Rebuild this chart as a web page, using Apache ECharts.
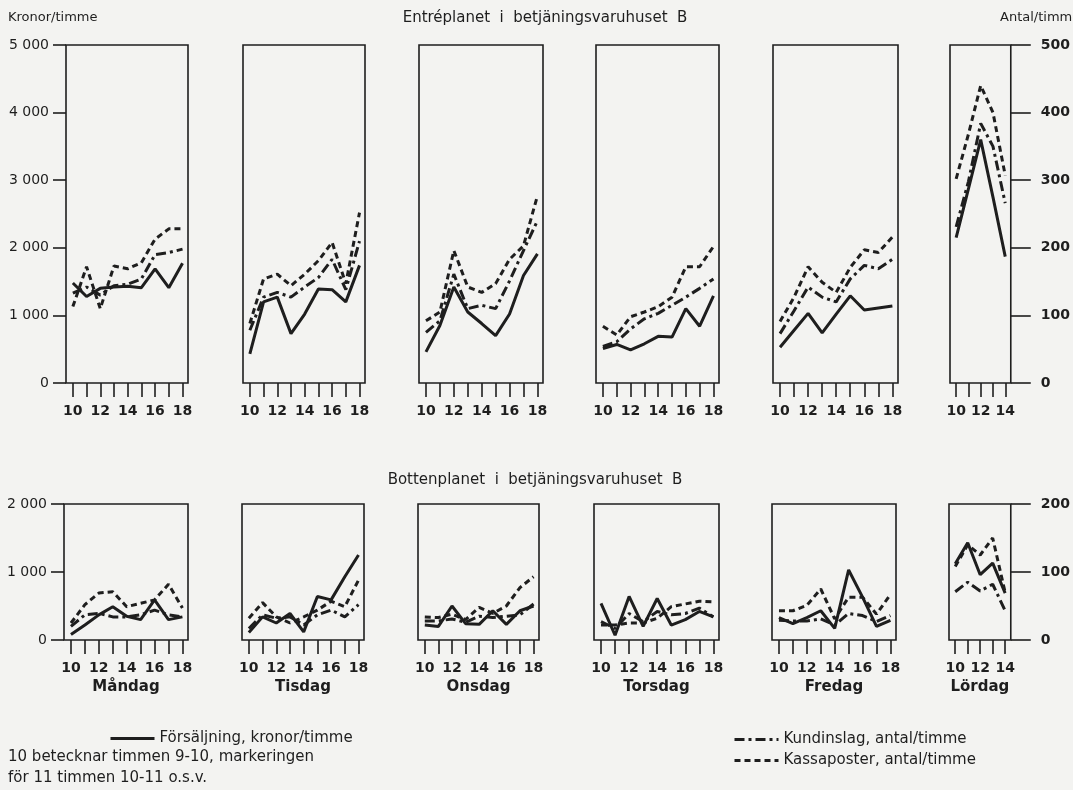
<!DOCTYPE html>
<html>
<head>
<meta charset="utf-8">
<script src="https://cdn.jsdelivr.net/npm/echarts@6/dist/echarts.min.js"></script>
<style>
html, body { margin: 0; padding: 0; background: #f3f3f1; }
#main { width: 1073px; height: 790px; }
</style>
</head>
<body>
<div id="main"></div>
<script>
var hours = [10, 11, 12, 13, 14, 15, 16, 17, 18];
var hoursLordag = [10, 11, 12, 13, 14];
var hourLabels = [10, 12, 14, 16, 18];
var hourLabelsLordag = [10, 12, 14];
var days = ['Måndag', 'Tisdag', 'Onsdag', 'Torsdag', 'Fredag', 'Lördag'];

// Entréplanet: försäljning i kronor/timme, kundinslag och kassaposter i antal/timme
var entreForsaljning = [
	[1480, 1280, 1400, 1420, 1430, 1410, 1690, 1410, 1770],
	[430, 1200, 1270, 730, 1020, 1390, 1380, 1200, 1740],
	[460, 850, 1420, 1050, 880, 700, 1020, 1590, 1910],
	[510, 570, 490, 580, 690, 680, 1100, 840, 1290],
	[530, 780, 1030, 740, 1020, 1290, 1080, 1110, 1140],
	[2150, 2870, 3600, 2750, 1870]
];
var entreKundinslag = [
	[133, 142, 130, 144, 146, 154, 190, 193, 198],
	[78, 127, 134, 127, 142, 156, 183, 138, 210],
	[75, 92, 161, 110, 115, 110, 151, 196, 240],
	[54, 61, 80, 95, 103, 115, 127, 140, 154],
	[73, 107, 142, 127, 120, 154, 174, 169, 183],
	[231, 298, 384, 350, 266]
];
var entreKassaposter = [
	[113, 172, 110, 173, 169, 178, 213, 228, 228],
	[88, 154, 161, 144, 161, 181, 208, 147, 252],
	[92, 105, 196, 142, 134, 147, 183, 203, 277],
	[84, 71, 98, 105, 113, 127, 172, 172, 202],
	[91, 127, 172, 149, 134, 171, 197, 193, 216],
	[302, 368, 440, 400, 307]
];

// Bottenplanet
var bottenForsaljning = [
	[80, 220, 370, 490, 350, 300, 590, 300, 340],
	[110, 340, 250, 390, 120, 640, 590, 930, 1250],
	[220, 200, 500, 240, 230, 430, 230, 430, 500],
	[540, 70, 640, 200, 610, 220, 300, 420, 340],
	[330, 240, 330, 430, 170, 1030, 630, 200, 290],
	[1120, 1430, 960, 1130, 690]
];
var bottenKundinslag = [
	[20, 37, 39, 34, 34, 37, 44, 37, 34],
	[17, 37, 32, 34, 22, 37, 44, 34, 52],
	[28, 28, 31, 26, 35, 33, 35, 37, 53],
	[27, 17, 39, 27, 42, 37, 39, 47, 34],
	[29, 28, 28, 31, 22, 39, 36, 27, 36],
	[71, 85, 72, 82, 43]
];
var bottenKassaposter = [
	[25, 52, 69, 71, 49, 54, 59, 82, 47],
	[32, 55, 34, 25, 34, 44, 57, 49, 88],
	[34, 33, 38, 30, 48, 39, 50, 77, 93],
	[22, 22, 25, 25, 32, 49, 53, 57, 56],
	[43, 43, 51, 75, 31, 63, 63, 38, 67],
	[108, 140, 125, 150, 70]
];

var ink = '#1e1e1e';
var font = 'DejaVu Sans';
var topBoxes = [[66, 122], [243, 122], [419, 124], [596, 123], [773, 125], [950, 68]];
var bottomBoxes = [[64, 124], [242, 122], [418, 121], [594, 125], [772, 124], [949, 70]];

var grids = [], xAxes = [], yAxes = [], series = [];

function kr(v) {
	if (v < 1000) return String(v);
	return Math.floor(v / 1000) + ' ' + String(v % 1000).padStart(3, '0');
}

function makeLine(name, g, yi, xs, vals, dash) {
	return {
		name: name, type: 'line', xAxisIndex: g, yAxisIndex: yi,
		data: xs.map(function(h, i) { return [h, vals[i]]; }),
		symbol: 'none', silent: true,
		lineStyle: { color: ink, width: 3, type: dash },
		itemStyle: { color: ink }
	};
}

function addPanel(isTop, d, box, salj, kund, kassa) {
	var g = grids.length;
	var lastDay = d == 5;
	var xs = lastDay ? hoursLordag : hours;
	grids.push({
		left: box[0], width: box[1], top: isTop ? 45 : 504, height: isTop ? 338 : 136,
		show: true, borderColor: ink, borderWidth: 1.6, backgroundColor: 'transparent'
	});
	xAxes.push({
		gridIndex: g, type: 'value', min: 9.5, max: lastDay ? 14.45 : 18.4,
		offset: 3,
		axisLine: { show: false },
		splitLine: { show: false },
		axisTick: { show: true, length: 14, customValues: xs, lineStyle: { color: ink, width: 1.6 } },
		axisLabel: { customValues: lastDay ? hourLabelsLordag : hourLabels, margin: 18, color: ink, fontSize: 14, fontFamily: font, fontWeight: 'bold' },
		name: isTop ? '' : days[d],
		nameLocation: 'middle', nameGap: 37,
		nameTextStyle: { color: ink, fontSize: 15, fontFamily: font, fontWeight: 'bold' }
	});
	yAxes.push({
		gridIndex: g, type: 'value', position: 'left', min: 0, max: isTop ? 5000 : 2000, interval: 1000,
		show: d == 0,
		axisLine: { show: false }, splitLine: { show: false },
		axisTick: { show: true, length: 13, lineStyle: { color: ink, width: 1.6 } },
		axisLabel: { formatter: kr, margin: 17, color: ink, fontSize: 14, fontFamily: font }
	});
	yAxes.push({
		gridIndex: g, type: 'value', position: 'right', min: 0, max: isTop ? 500 : 200, interval: 100,
		show: lastDay,
		axisLine: { show: false }, splitLine: { show: false },
		axisTick: { show: true, length: 20, lineStyle: { color: ink, width: 1.6 } },
		axisLabel: { margin: 30, color: ink, fontSize: 14, fontFamily: font, fontWeight: 'bold' }
	});
	var yl = yAxes.length - 2;
	series.push(makeLine('Försäljning, kronor/timme', g, yl, xs, salj, 'solid'));
	series.push(makeLine('Kundinslag, antal/timme', g, yl + 1, xs, kund, [10, 4, 3, 4]));
	series.push(makeLine('Kassaposter, antal/timme', g, yl + 1, xs, kassa, [6, 4]));
}

for (var d = 0; d < 6; d++) {
	addPanel(true, d, topBoxes[d], entreForsaljning[d], entreKundinslag[d], entreKassaposter[d]);
}
for (var d = 0; d < 6; d++) {
	addPanel(false, d, bottomBoxes[d], bottenForsaljning[d], bottenKundinslag[d], bottenKassaposter[d]);
}

function txt(x, y, s, align, size) {
	return {
		type: 'text', x: x, y: y, silent: true,
		style: { text: s, fill: ink, font: (size || 14) + 'px ' + font, textAlign: align || 'left', textVerticalAlign: 'middle' }
	};
}

var legendText = { color: ink, fontSize: 15, fontFamily: font };
var legendItem = { color: 'transparent', borderWidth: 0, opacity: 0 };
var legendLine = { width: 3 };
var option = {
	backgroundColor: '#f3f3f1',
	animation: false,
	grid: grids,
	xAxis: xAxes,
	yAxis: yAxes,
	series: series,
	legend: [
		{ data: ['Försäljning, kronor/timme'], left: 104, top: 726, itemWidth: 44, itemHeight: 12, selectedMode: false, itemStyle: legendItem, lineStyle: legendLine, textStyle: legendText },
		{ data: ['Kundinslag, antal/timme', 'Kassaposter, antal/timme'], orient: 'vertical', left: 728, top: 727, itemGap: 6, itemWidth: 44, itemHeight: 12, selectedMode: false, itemStyle: legendItem, lineStyle: legendLine, textStyle: legendText }
	],
	graphic: [
		txt(8, 18, 'Kronor/timme', 'left', 13),
		txt(545, 18, 'Entréplanet  i  betjäningsvaruhuset  B', 'center', 15),
		txt(1000, 18, 'Antal/timme', 'left', 13),
		txt(535, 480, 'Bottenplanet  i  betjäningsvaruhuset  B', 'center', 15),
		txt(8, 757, '10 betecknar timmen 9-10, markeringen', 'left', 15),
		txt(8, 778, 'för 11 timmen 10-11 o.s.v.', 'left', 15)
	]
};

var chart = echarts.init(document.getElementById('main'));
chart.setOption(option);
</script>
</body>
</html>
